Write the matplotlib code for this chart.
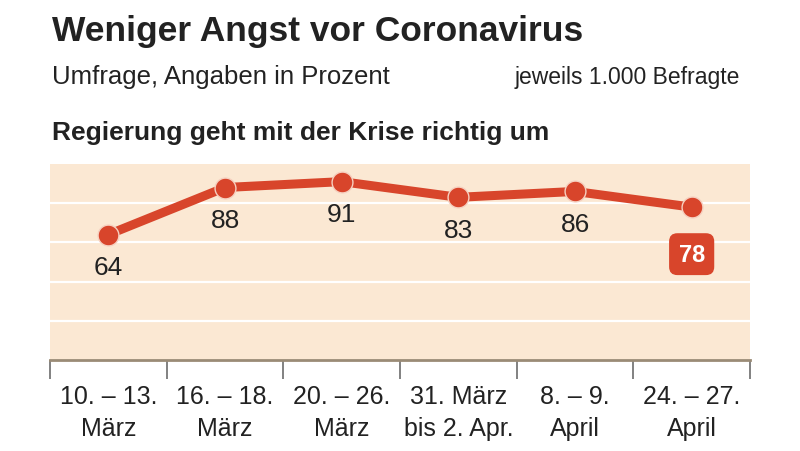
import matplotlib
matplotlib.use("Agg")
import matplotlib.pyplot as plt
from matplotlib import font_manager

names = {f.name for f in font_manager.fontManager.ttflist}
FAM = "Liberation Sans Narrow" if "Liberation Sans Narrow" in names else "Liberation Sans"
plt.rcParams['font.family'] = [FAM, 'DejaVu Sans']

categories = ["10. – 13.\nMärz", "16. – 18.\nMärz", "20. – 26.\nMärz",
              "31. März\nbis 2. Apr.", "8. – 9.\nApril", "24. – 27.\nApril"]
values = [64, 88, 91, 83, 86, 78]
gridlines = [20, 40, 60, 80]

RED = "#D8452B"
BG = "#FBE8D3"
TXT = "#222222"

fig = plt.figure(figsize=(8, 4.52), dpi=100)
ax = fig.add_axes([50/800, 1-361/452, 700/800, (361-165)/452])
ax.set_xlim(0, len(values))
ax.set_ylim(0, 100)
ax.set_facecolor(BG)
for g in gridlines:
    ax.axhline(g, color="white", lw=1.6, zorder=1)

x = [i + 0.5 for i in range(len(values))]
ax.plot(x, values, color=RED, lw=6.5, zorder=3, solid_capstyle='round')
ax.plot(x, values, 'o', ms=15, color=RED, mec="#f6d0c0", mew=1.0, zorder=4)

for xi, v in zip(x[:-1], values[:-1]):
    ax.text(xi, v - 16.5, str(v), ha='center', va='center', fontsize=19, color=TXT, zorder=5)
ax.text(x[-1], values[-1] - 24, str(values[-1]), ha='center', va='center', fontsize=17,
        fontweight='bold', color='white', zorder=5,
        bbox=dict(boxstyle="round,pad=0.4,rounding_size=0.35", fc=RED, ec='none'))

for s in ['top', 'left', 'right']:
    ax.spines[s].set_visible(False)
ax.spines['bottom'].set_color("#9a8b76")
ax.spines['bottom'].set_linewidth(2)
ax.set_yticks([])
ax.set_xticks(range(len(values) + 1))
ax.set_xticklabels([])
ax.tick_params(axis='x', direction='out', length=14, width=1.3, color="#777777")
ax.set_xticks(x, minor=True)
ax.set_xticklabels(categories, minor=True, fontsize=18, color=TXT, linespacing=1.45)
ax.tick_params(axis='x', which='minor', length=0, pad=17)

fig.text(52/800, 1-41/452, "Weniger Angst vor Coronavirus", fontsize=25.5, fontweight='bold', color=TXT)
fig.text(52/800, 1-84/452, "Umfrage, Angaben in Prozent", fontsize=18.5, color=TXT)
fig.text(740/800, 1-84/452, "jeweils 1.000 Befragte", fontsize=16.5, color=TXT, ha='right')
fig.text(52/800, 1-140/452, "Regierung geht mit der Krise richtig um", fontsize=19, fontweight='bold', color=TXT)

fig.savefig("out.png", dpi=100, facecolor="white")
